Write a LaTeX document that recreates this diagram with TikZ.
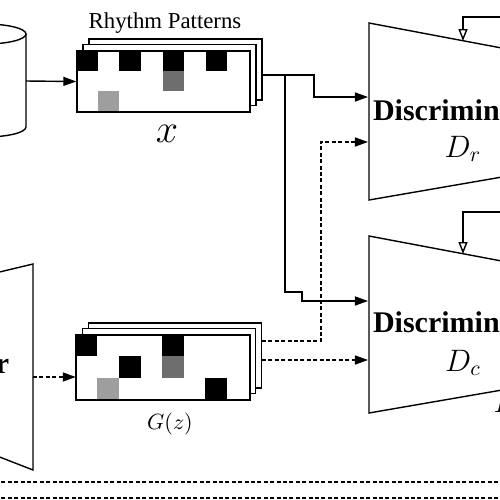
\RequirePackage{fix-cm}
\documentclass[tikz,border=0pt]{standalone}
\usepackage{fontspec}
\setmainfont{Liberation Serif}
\usetikzlibrary{arrows.meta,positioning,shadows,calc}
\definecolor{darkcell}{RGB}{110,110,110}
\definecolor{lightcell}{RGB}{158,158,158}

\begin{document}
\begin{tikzpicture}[x=0.5pt,y=-0.5pt,line width=0.7pt,
          pbox/.style={draw,fill=white,inner sep=0pt,
                       minimum width=86.5pt,minimum height=30.5pt,
                       copy shadow={shadow xshift=6pt,shadow yshift=6pt},
                       copy shadow={shadow xshift=3pt,shadow yshift=3.2pt}},
          trap/.style={draw,line join=miter},
          arr/.style={-{Triangle[length=6.5pt,width=4.5pt]}},
          darr/.style={arr,dash pattern=on 2pt off 1.2pt},
          fb/.style={-{Triangle[open,length=6pt,width=4.5pt]}},
          ttl/.style={inner sep=0pt,font=\fontsize{11.4}{13}\selectfont},
          dname/.style={inner sep=0pt,font=\fontsize{15}{18}\selectfont\bfseries},
          mlab/.style={inner sep=0pt,font=\fontsize{15.5}{18}\selectfont}]
        \useasboundingbox (0,0) rectangle (500,500);
        \clip (0,0) rectangle (500,500);
        % data store
        \draw (26,34) -- (26,127) arc[start angle=0,end angle=180,x radius=41,y radius=10];
        \draw (-15,34) ellipse [x radius=41,y radius=10];
        \coordinate (store) at (26,81);
        % generator
        \draw[trap] (-80,291) -- (33,264) -- (33,470) -- (-80,426);
        \node[dname,anchor=base east] (gname) at (10,373) {Generator};
        \coordinate (genout) at (33,377);
        % real patterns
        \node[pbox] (real) at (163.5,81.5) {};
        \foreach \c/\r/\tone in {0/0/black,2/0/black,4/0/black,6/0/black,4/1/darkcell,1/2/lightcell}
          \fill[\tone] ($(real.north west)+(\c*21.6,\r*20.3)$) rectangle ++(21.6,20.3);
        \draw (real.north west) rectangle (real.south east);
        \node[ttl,anchor=base] (rtitle) at (165,28) {Rhythm Patterns};
        \node[inner sep=0pt,anchor=base,font=\fontsize{20}{22}\selectfont] (xlab) at (167,142) {$x$};
        % generated patterns
        \node[pbox,minimum height=32.5pt] (fake) at (163,367.5) {};
        \foreach \c/\r/\tone in {0/0/black,4/0/black,2/1/black,4/1/darkcell,1/2/lightcell,6/2/black}
          \fill[\tone] ($(fake.north west)+(\c*21.6,\r*21.7)$) rectangle ++(21.6,21.7);
        \draw (fake.north west) rectangle (fake.south east);
        \node[inner sep=0pt,anchor=base,font=\fontsize{11}{13}\selectfont] (glab) at (170,429) {$G(z)$};
        % discriminators
        \draw[trap] (560,59) -- (369,23) -- (369,200) -- (560,167);
        \node[dname,anchor=base] (drname) at (463,120) {Discriminator};
        \node[mlab,anchor=base] (drsym) at (463,157) {$D_r$};
        \draw[trap] (560,272) -- (369,236) -- (369,413) -- (560,380);
        \node[dname,anchor=base] (dcname) at (463,332) {Discriminator};
        \node[mlab,anchor=base] (dcsym) at (463,371) {$D_c$};
        \node[mlab,anchor=base west] (dcloss) at (493,412) {$L$};
        \coordinate (rout) at (262,75);
        \coordinate (split) at (285,75);
        \coordinate (drin1) at (368,97);
        \coordinate (drin2) at (368,142);
        \coordinate (dcin1) at (368,301);
        \coordinate (dcin2) at (368,360);
        \coordinate (fout1) at (262,341);
        \coordinate (fout2) at (262,360);
        \coordinate (drtop) at (463,41);
        \coordinate (dctop) at (463,254);
        \coordinate (drfb) at (510,17);
        \coordinate (dcfb) at (510,212);
        \draw[arr] (store) -- (real.west);
        \draw[arr] (rout) -- ++(52,0) |- (drin1);
        \draw[arr] (split) |- (302,292) |- (dcin1);
        \draw[darr] (fout1) -- ++(59,0) |- (drin2);
        \draw[darr] (fout2) -- (dcin2);
        \draw[darr] (genout) -- (genout -| fake.west);
        \draw[fb] (drfb) -| (drtop);
        \draw[fb] (dcfb) -| (dctop);
        \draw[dash pattern=on 2pt off 1.2pt] (-5,482) -- (505,482);
        \draw[dash pattern=on 2pt off 1.2pt] (-5,498) -- (505,498);
      \end{tikzpicture}
\end{document}
